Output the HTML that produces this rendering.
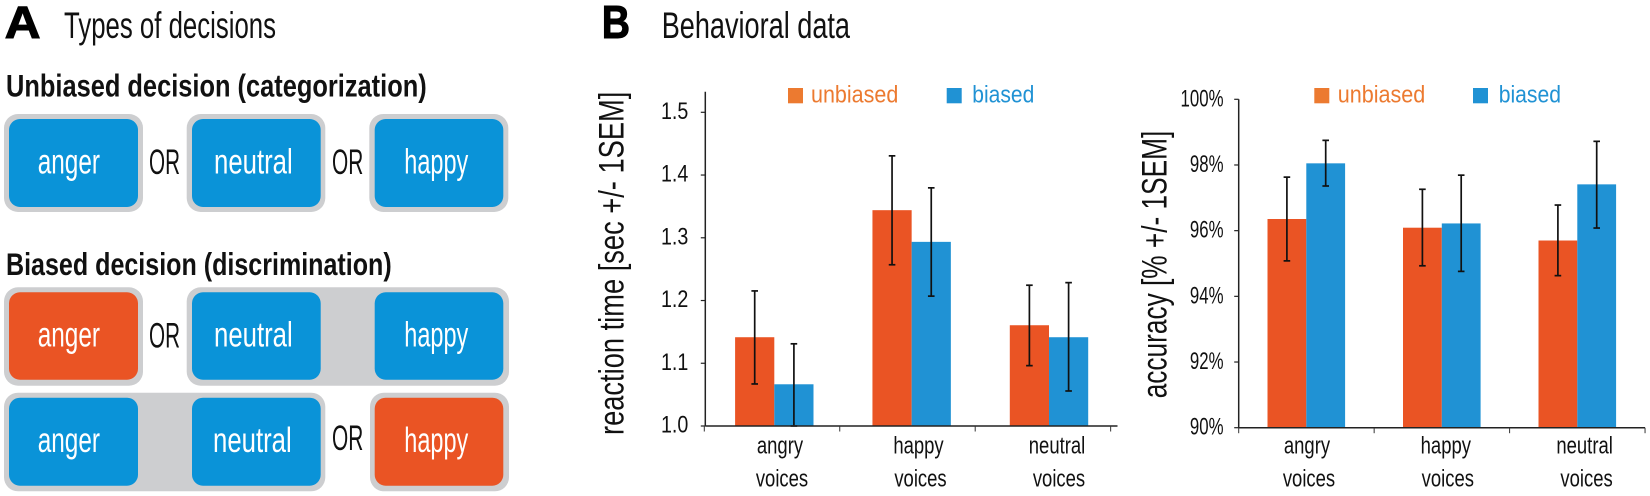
<!DOCTYPE html>
<html lang="en">
<head>
<meta charset="utf-8">
<title>Types of decisions and behavioral data</title>
<style>
  html, body { margin: 0; padding: 0; background: #fff; width: 1650px; height: 496px; overflow: hidden; }
  svg { display: block; font-family: "Liberation Sans", sans-serif; }
</style>
</head>
<body>
<svg id="figure" xmlns="http://www.w3.org/2000/svg" width="1650" height="496" viewBox="0 0 1650 496">
  <rect x="0" y="0" width="1650" height="496" fill="#fff"/>

  <g>
    <text x="4.7" y="38" font-size="45" font-weight="bold" stroke="#000" stroke-width="1" textLength="36" lengthAdjust="spacingAndGlyphs">A</text>
    <text x="64" y="38" font-size="37" fill="#111" textLength="212" lengthAdjust="spacingAndGlyphs">Types of decisions</text>
    <text x="6" y="96.7" font-size="31.5" font-weight="bold" fill="#111" textLength="420.7" lengthAdjust="spacingAndGlyphs">Unbiased decision (categorization)</text>
    <text x="6" y="275" font-size="31.5" font-weight="bold" fill="#111" textLength="385.7" lengthAdjust="spacingAndGlyphs">Biased decision (discrimination)</text>

    <g>
      <rect x="4" y="114" width="139" height="98" rx="14" fill="#cdced0"/>
      <rect x="186.7" y="114" width="138.6" height="98" rx="14" fill="#cdced0"/>
      <rect x="369.3" y="114" width="139" height="98" rx="14" fill="#cdced0"/>
      <rect x="9" y="119" width="129" height="88" rx="11" fill="#0a93d8"/>
      <rect x="192" y="119" width="128.7" height="88" rx="11" fill="#0a93d8"/>
      <rect x="374.7" y="119" width="128.6" height="88" rx="11" fill="#0a93d8"/>
      <text x="37.7" y="173.3" font-size="35" fill="#fff" textLength="62.3" lengthAdjust="spacingAndGlyphs">anger</text>
      <text x="214" y="173.3" font-size="35" fill="#fff" textLength="78.7" lengthAdjust="spacingAndGlyphs">neutral</text>
      <text x="404.3" y="173.3" font-size="35" fill="#fff" textLength="64" lengthAdjust="spacingAndGlyphs">happy</text>
      <text x="149" y="174" font-size="35" fill="#111" textLength="31" lengthAdjust="spacingAndGlyphs">OR</text>
      <text x="332" y="174" font-size="35" fill="#111" textLength="31.3" lengthAdjust="spacingAndGlyphs">OR</text>
    </g>

    <g>
      <rect x="4" y="287.3" width="139" height="98.4" rx="14" fill="#cdced0"/>
      <rect x="186.7" y="287.3" width="322.3" height="98.4" rx="14" fill="#cdced0"/>
      <rect x="9" y="292.3" width="129" height="87.4" rx="11" fill="#ea5424"/>
      <rect x="192" y="292.3" width="128.7" height="87.4" rx="11" fill="#0a93d8"/>
      <rect x="374.7" y="292.3" width="128.6" height="87.4" rx="11" fill="#0a93d8"/>
      <text x="37.7" y="346.7" font-size="35" fill="#fff" textLength="62.3" lengthAdjust="spacingAndGlyphs">anger</text>
      <text x="214" y="346.7" font-size="35" fill="#fff" textLength="78.7" lengthAdjust="spacingAndGlyphs">neutral</text>
      <text x="404.3" y="346.7" font-size="35" fill="#fff" textLength="64" lengthAdjust="spacingAndGlyphs">happy</text>
      <text x="149" y="347.3" font-size="35" fill="#111" textLength="31" lengthAdjust="spacingAndGlyphs">OR</text>
    </g>

    <g>
      <rect x="4" y="392.7" width="321.3" height="98.6" rx="14" fill="#cdced0"/>
      <rect x="370" y="392.7" width="139" height="98.6" rx="14" fill="#cdced0"/>
      <rect x="9" y="397.7" width="129" height="88" rx="11" fill="#0a93d8"/>
      <rect x="192" y="397.7" width="128.7" height="88" rx="11" fill="#0a93d8"/>
      <rect x="374.7" y="397.7" width="128.6" height="88" rx="11" fill="#ea5424"/>
      <text x="37.7" y="452" font-size="35" fill="#fff" textLength="62.3" lengthAdjust="spacingAndGlyphs">anger</text>
      <text x="213" y="452" font-size="35" fill="#fff" textLength="78.7" lengthAdjust="spacingAndGlyphs">neutral</text>
      <text x="404.3" y="452" font-size="35" fill="#fff" textLength="64" lengthAdjust="spacingAndGlyphs">happy</text>
      <text x="332" y="450" font-size="35" fill="#111" textLength="31.3" lengthAdjust="spacingAndGlyphs">OR</text>
    </g>
  </g>

  <g>
    <text x="601.7" y="38" font-size="46" font-weight="bold" stroke="#000" stroke-width="1" textLength="28.3" lengthAdjust="spacingAndGlyphs">B</text>
    <text x="661.7" y="38" font-size="37" fill="#111" textLength="188.3" lengthAdjust="spacingAndGlyphs">Behavioral data</text>

    <text transform="translate(623.3,435) rotate(-90)" font-size="35" fill="#111" textLength="343.3" lengthAdjust="spacingAndGlyphs">reaction time [sec +/- 1SEM]</text>
    <text transform="translate(1166.7,398.3) rotate(-90)" font-size="35" fill="#111" textLength="267.6" lengthAdjust="spacingAndGlyphs">accuracy [% +/- 1SEM]</text>

    <g>
      <rect x="788" y="88" width="15" height="15.3" fill="#ec7a30"/>
      <text x="811" y="102.3" font-size="24" fill="#ec7a30" textLength="87.3" lengthAdjust="spacingAndGlyphs">unbiased</text>
      <rect x="946.7" y="88" width="15" height="15.3" fill="#2092d4"/>
      <text x="972.3" y="102.3" font-size="24" fill="#2092d4" textLength="62" lengthAdjust="spacingAndGlyphs">biased</text>
    </g>
    <g>
      <rect x="1314.3" y="88" width="15" height="15.3" fill="#ec7a30"/>
      <text x="1337.7" y="102.3" font-size="24" fill="#ec7a30" textLength="87.6" lengthAdjust="spacingAndGlyphs">unbiased</text>
      <rect x="1473" y="88" width="15" height="15.3" fill="#2092d4"/>
      <text x="1498.7" y="102.3" font-size="24" fill="#2092d4" textLength="62.3" lengthAdjust="spacingAndGlyphs">biased</text>
    </g>
    <g id="rt-chart"></g>
    <g id="acc-chart"></g>
  </g>
</svg>

<script>
// Shared category labels
const categories = ["angry", "happy", "neutral"];
const categorySuffix = "voices";

// Reaction-time chart data (seconds)
const rtUnbiased = [1.1415, 1.344, 1.1606];
const rtBiased = [1.0665, 1.2935, 1.1415];
const rtUnbiasedHigh = [1.2153, 1.4306, 1.2244];
const rtUnbiasedLow = [1.067, 1.257, 1.0962];
const rtBiasedHigh = [1.131, 1.3796, 1.2285];
const rtBiasedLow = [1.0, 1.207, 1.0558];
const rtTickValues = [1.0, 1.1, 1.2, 1.3, 1.4, 1.5];
const rtTickLabels = ["1.0", "1.1", "1.2", "1.3", "1.4", "1.5"];

// Accuracy chart data (percent)
const accUnbiased = [96.355, 96.09, 95.7];
const accBiased = [98.05, 96.22, 97.41];
const accUnbiasedHigh = [97.63, 97.26, 96.78];
const accUnbiasedLow = [95.08, 94.93, 94.63];
const accBiasedHigh = [98.75, 97.69, 98.72];
const accBiasedLow = [97.36, 94.76, 96.08];
const accTickValues = [90, 92, 94, 96, 98, 100];
const accTickLabels = ["90%", "92%", "94%", "96%", "98%", "100%"];

const SVG_NS = "http://www.w3.org/2000/svg";
const ORANGE = "#ea5424";
const BLUE = "#2092d4";
const INK = "#111";

function mk(parent, tag, attrs) {
  const el = document.createElementNS(SVG_NS, tag);
  for (const key in attrs) el.setAttribute(key, attrs[key]);
  parent.appendChild(el);
  return el;
}

function drawChart(root, opts) {
  const y = v => opts.yBase - (v - opts.yMin) * opts.yPerUnit;
  const groupX = i => opts.groupStart + opts.groupStep * i;
  const tickX = i => opts.tickStart + opts.tickStep * i;
  const labelX = i => opts.labelStart + opts.labelStep * i;

  // Bars
  opts.categories.forEach((cat, i) => {
    const bx = groupX(i);
    const orange = mk(root, "rect", { x: bx - opts.barW, y: y(opts.unbiased[i]), width: opts.barW, height: opts.yBase - y(opts.unbiased[i]), fill: ORANGE });
    
    
    const blue = mk(root, "rect", { x: bx, y: y(opts.biased[i]), width: opts.barW, height: opts.yBase - y(opts.biased[i]), fill: BLUE });
    
    
  });

  // Error bars
  function errorBar(cx, hi, lo, name) {
    const g = mk(root, "g", { stroke: INK, "stroke-width": 1.7, fill: "none" });
    
    
    mk(g, "line", { x1: cx, x2: cx, y1: y(hi), y2: y(lo) });
    mk(g, "line", { x1: cx - 3.3, x2: cx + 3.3, y1: y(hi), y2: y(hi) });
    mk(g, "line", { x1: cx - 3.3, x2: cx + 3.3, y1: y(lo), y2: y(lo) });
  }
  opts.categories.forEach((cat, i) => {
    errorBar(groupX(i) - opts.barW / 2, opts.unbiasedHigh[i], opts.unbiasedLow[i], 'error-bar-unbiased-' + cat);
    errorBar(groupX(i) + opts.barW / 2, opts.biasedHigh[i], opts.biasedLow[i], 'error-bar-biased-' + cat);
  });

  // Axes
  const yAxis = mk(root, "line", { x1: opts.axisX, x2: opts.axisX, y1: opts.axisTop, y2: opts.yBase, stroke: "#222", "stroke-width": 1.5 });
  
  
  const xAxis = mk(root, "line", { x1: opts.axisX, x2: opts.axisEnd, y1: opts.yBase, y2: opts.yBase, stroke: "#222", "stroke-width": 1.5 });
  
  

  // Y ticks and labels
  opts.tickValues.forEach((v, i) => {
    const tick = mk(root, "line", { x1: opts.axisX - 4.5, x2: opts.axisX, y1: y(v), y2: y(v), stroke: "#222", "stroke-width": 1.2 });
    
    
    const lab = mk(root, "text", { transform: "translate(" + opts.tickLabelX + "," + (y(v) + opts.tickLabelDy) + ") scale(" + opts.tickScale + ",1)", "text-anchor": "end", "font-size": 24, fill: INK });
    lab.textContent = opts.tickLabels[i];
    
    
  });

  // X ticks
  for (let i = 0; i <= opts.categories.length; i++) {
    const tick = mk(root, "line", { x1: tickX(i), x2: tickX(i), y1: opts.yBase, y2: opts.yBase + 5.5, stroke: "#333", "stroke-width": 1 });
    
    
  }

  // X labels
  opts.categories.forEach((cat, i) => {
    const top = mk(root, "text", { transform: "translate(" + labelX(i) + ",453.3) scale(0.77,1)", "text-anchor": "middle", "font-size": 24, fill: INK });
    top.textContent = cat;
    
    
    const bottom = mk(root, "text", { transform: "translate(" + (labelX(i) + 2) + ",486.7) scale(0.77,1)", "text-anchor": "middle", "font-size": 24, fill: INK });
    bottom.textContent = categorySuffix;
    
    
  });
}

drawChart(document.getElementById("rt-chart"), {
  categories: categories,
  unbiased: rtUnbiased, biased: rtBiased,
  unbiasedHigh: rtUnbiasedHigh, unbiasedLow: rtUnbiasedLow,
  biasedHigh: rtBiasedHigh, biasedLow: rtBiasedLow,
  tickValues: rtTickValues, tickLabels: rtTickLabels,
  yBase: 426, yMin: 1.0, yPerUnit: 627.4,
  axisX: 705.3, axisTop: 91.7, axisEnd: 1117.5,
  groupStart: 774.3, groupStep: 137.35, barW: 39.2,
  tickStart: 704.3, tickStep: 135.45,
  labelStart: 780, labelStep: 138.5,
  tickLabelX: 688.3, tickLabelDy: 6.5, tickScale: 0.82
});

drawChart(document.getElementById("acc-chart"), {
  categories: categories,
  unbiased: accUnbiased, biased: accBiased,
  unbiasedHigh: accUnbiasedHigh, unbiasedLow: accUnbiasedLow,
  biasedHigh: accBiasedHigh, biasedLow: accBiasedLow,
  tickValues: accTickValues, tickLabels: accTickLabels,
  yBase: 427.7, yMin: 90, yPerUnit: 32.84,
  axisX: 1238.7, axisTop: 99.3, axisEnd: 1645,
  groupStart: 1306.3, groupStep: 135.5, barW: 38.8,
  tickStart: 1238.7, tickStep: 135.45,
  labelStart: 1307, labelStep: 138.8,
  tickLabelX: 1223.5, tickLabelDy: 7, tickScale: 0.7
});
</script>
</body>
</html>
